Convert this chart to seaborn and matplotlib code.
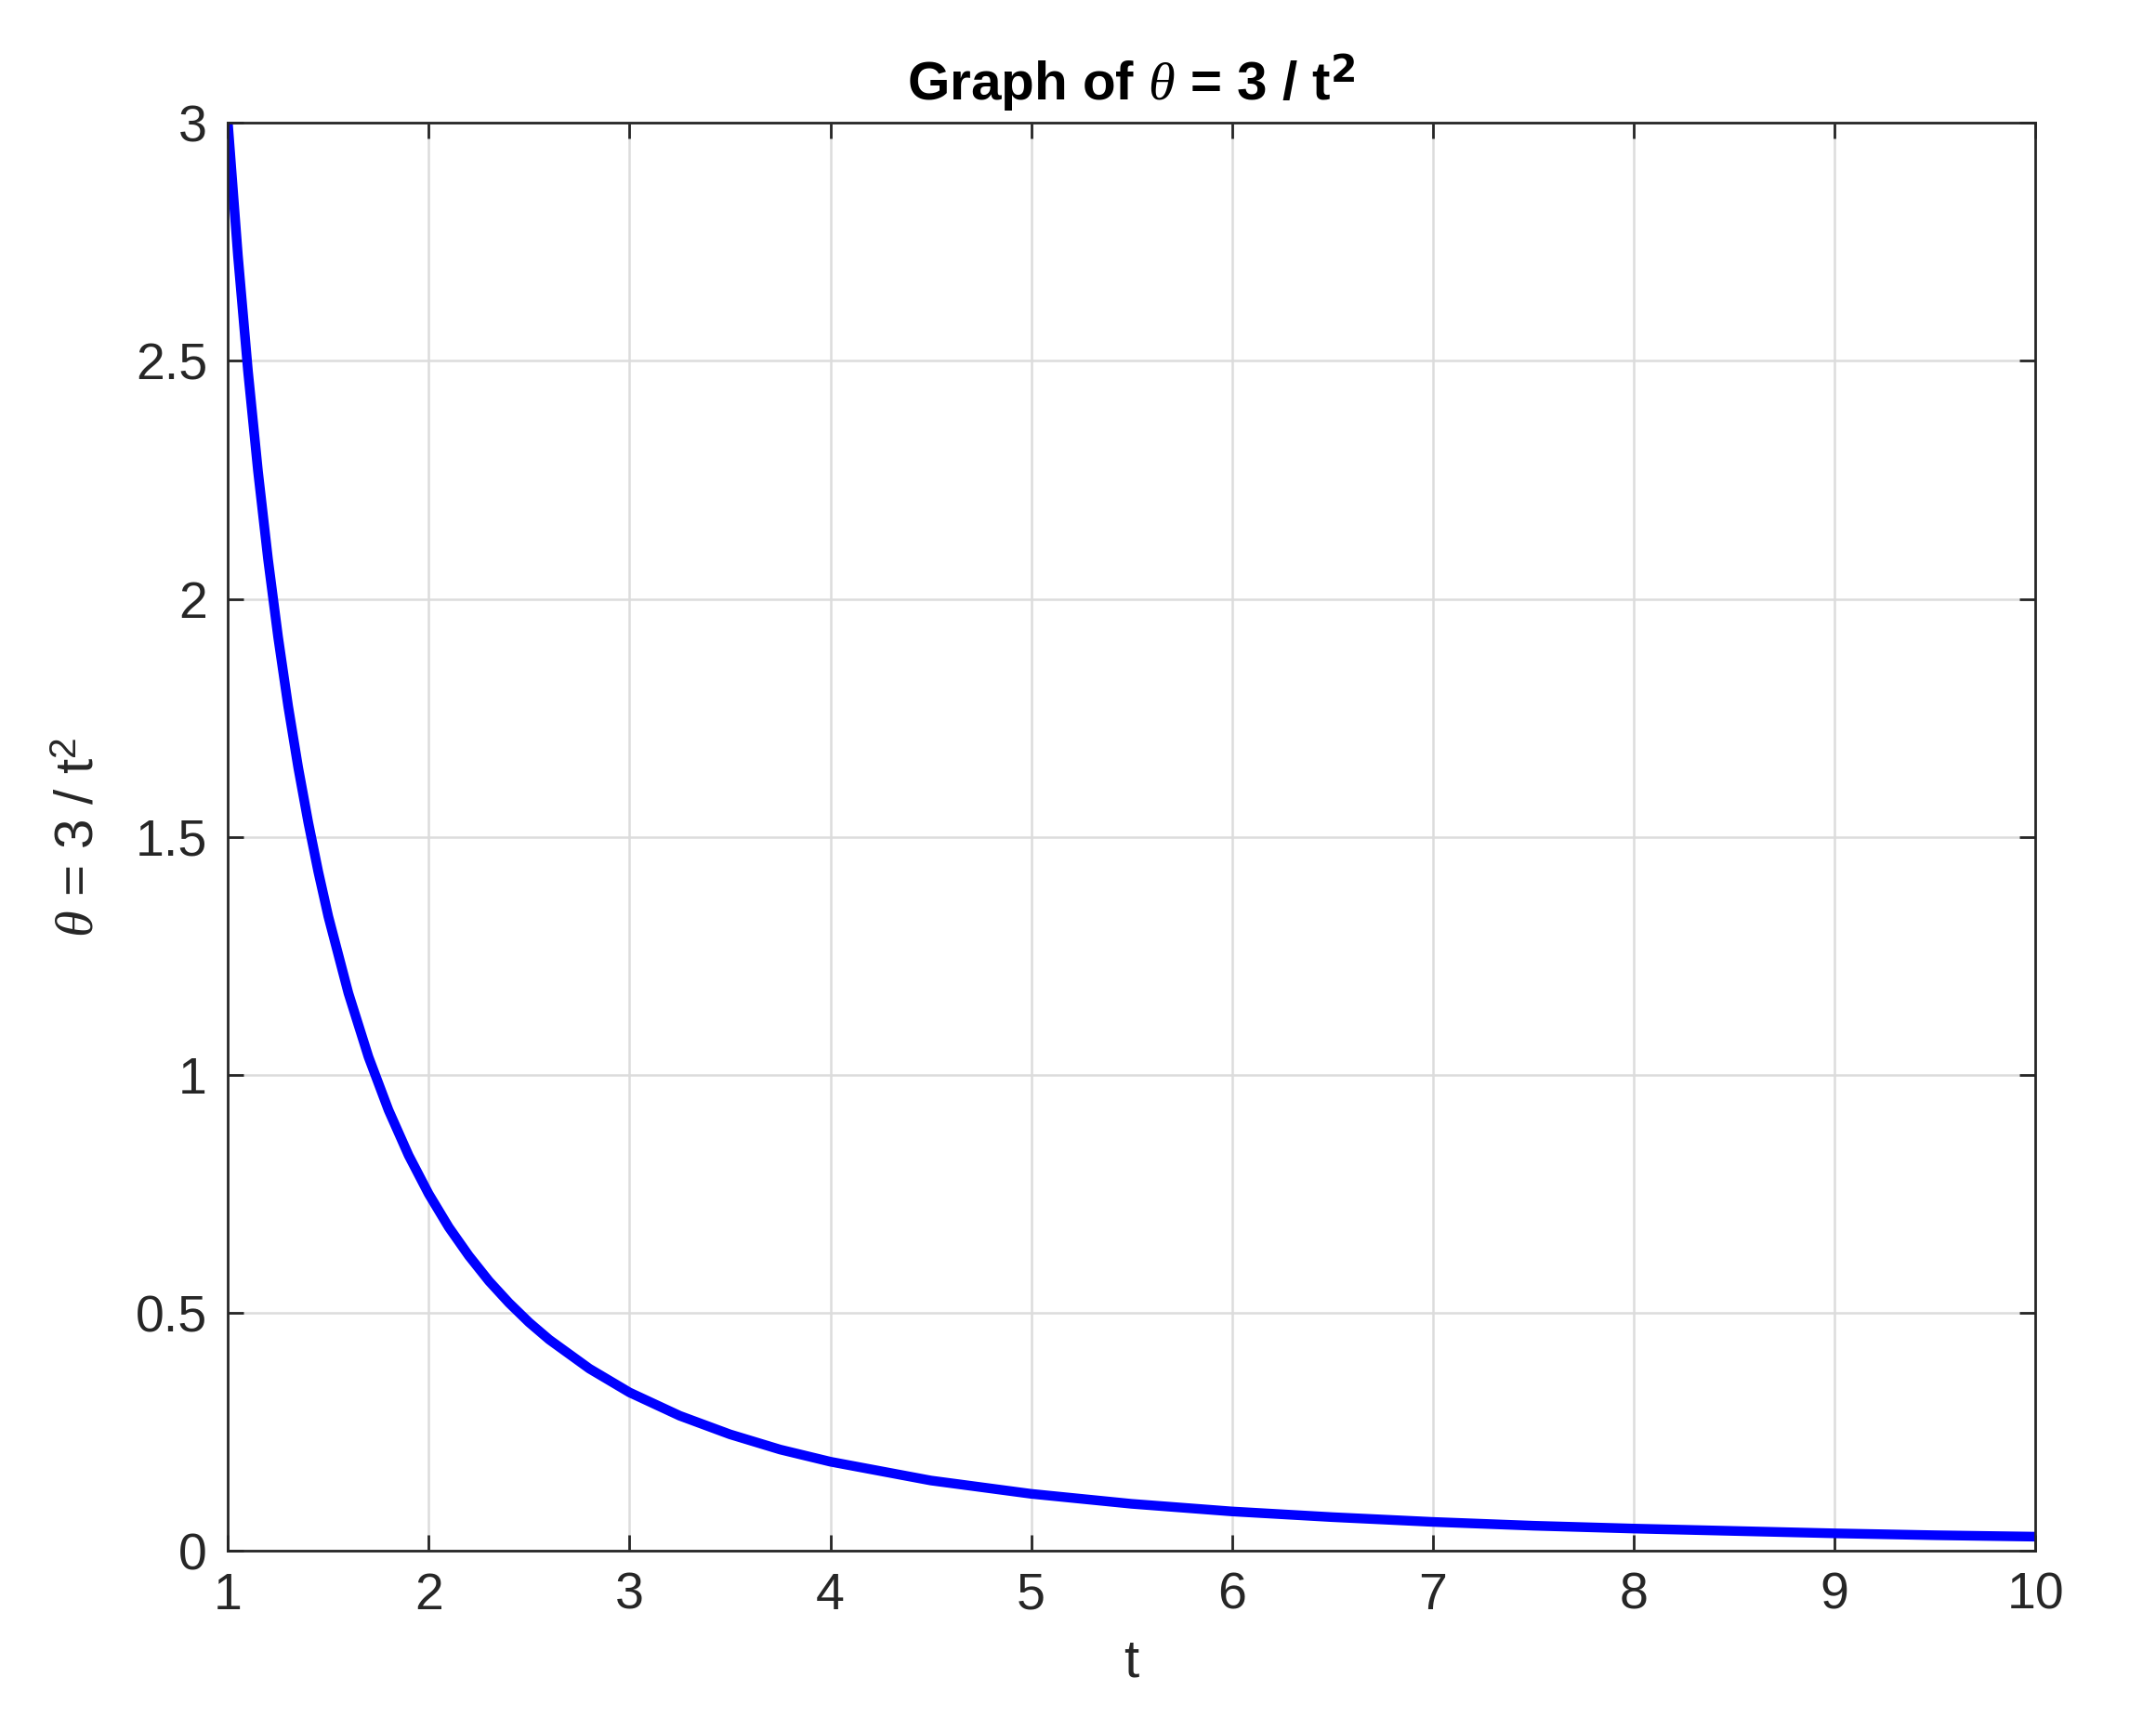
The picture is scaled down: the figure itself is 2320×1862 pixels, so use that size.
import matplotlib
matplotlib.use("Agg")
import matplotlib.pyplot as plt
import seaborn as sns
import pandas as pd

sns.set_theme(style="white")
plt.rcParams['font.family'] = ['Liberation Sans', 'DejaVu Sans']
plt.rcParams['mathtext.fontset'] = 'custom'
plt.rcParams['mathtext.it'] = 'Liberation Serif:italic'
plt.rcParams['mathtext.rm'] = 'Liberation Sans'

t_vals = [1.0, 1.05, 1.1, 1.15, 1.2, 1.25, 1.3, 1.35, 1.4, 1.45, 1.5, 1.6, 1.7, 1.8, 1.9,
          2.0, 2.1, 2.2, 2.3, 2.4, 2.5, 2.6, 2.8, 3.0, 3.25, 3.5, 3.75, 4.0, 4.5, 5.0,
          5.5, 6.0, 6.5, 7.0, 7.5, 8.0, 8.5, 9.0, 9.5, 10.0]
theta_vals = [3.0, 2.721, 2.479, 2.268, 2.083, 1.92, 1.775, 1.646, 1.531, 1.427, 1.333,
              1.172, 1.038, 0.926, 0.831, 0.75, 0.680, 0.620, 0.567, 0.521, 0.48,
              0.444, 0.383, 0.333, 0.284, 0.245, 0.213, 0.1875, 0.148, 0.12, 0.099,
              0.083, 0.071, 0.061, 0.053, 0.047, 0.042, 0.037, 0.033, 0.03]
x_ticks = [1, 2, 3, 4, 5, 6, 7, 8, 9, 10]
y_ticks = [0, 0.5, 1, 1.5, 2, 2.5, 3]
y_tick_labels = ["0", "0.5", "1", "1.5", "2", "2.5", "3"]

df = pd.DataFrame({"t": t_vals, "theta": theta_vals})

fig = plt.figure(figsize=(23.2, 18.62), dpi=100)
ax = fig.add_axes([0.1057, 0.1035, 0.8383, 0.8255])
sns.lineplot(data=df, x="t", y="theta", ax=ax, color="#0000ff", linewidth=7.5)

ax.set_xlim(1, 10)
ax.set_ylim(0, 3)
ax.set_xticks(x_ticks)
ax.set_xticklabels([str(v) for v in x_ticks])
ax.set_yticks(y_ticks)
ax.set_yticklabels(y_tick_labels)
ax.grid(True, color="#dcdcdc", linewidth=1.8)
ax.tick_params(direction="in", length=12, width=2, labelsize=40, colors="#262626",
               top=True, right=True, bottom=True, left=True, pad=16)
for s in ax.spines.values():
    s.set_color("#262626")
    s.set_linewidth(2)
ax.set_xlabel("t", fontsize=42, color="#262626", labelpad=14)
ax.set_ylabel(r"$\theta$ = 3 / t$^2$", fontsize=42, color="#262626", labelpad=24)
ax.set_title(r"Graph of $\theta$ = 3 / t$^{\mathbf{2}}$", fontsize=42,
             fontweight="bold", color="black", pad=18)
fig.savefig("out.png", dpi=100, facecolor="white")
